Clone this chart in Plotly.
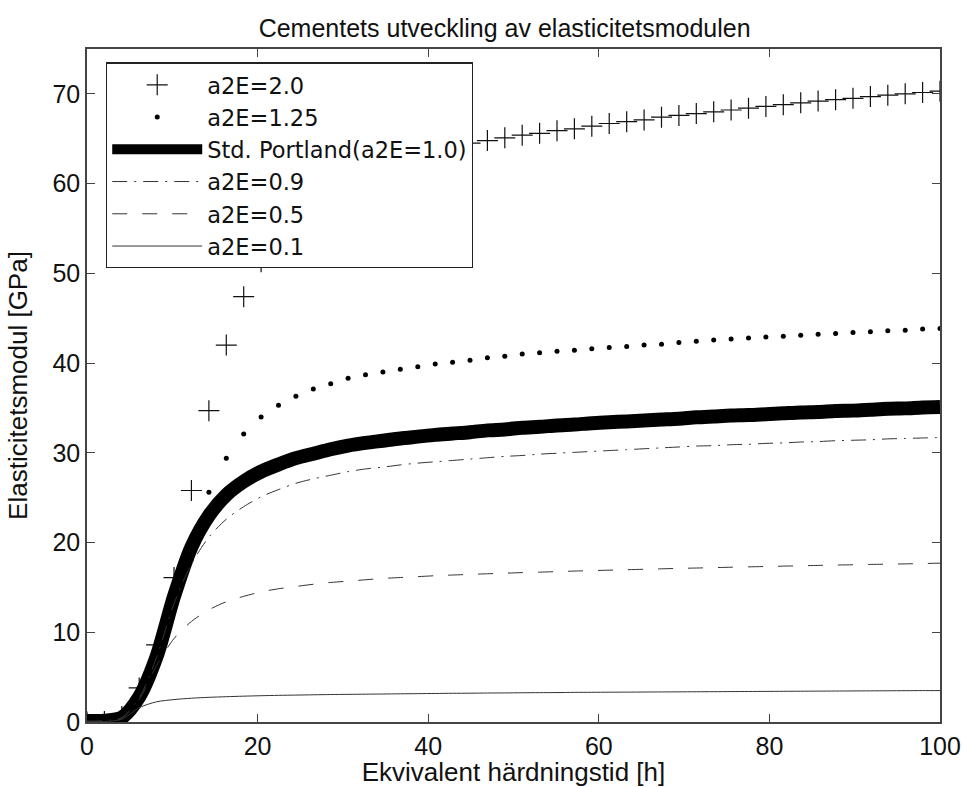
import plotly.graph_objects as go

# Equivalent hardening time [h]
t = [0.00, 2.04, 4.08, 6.12, 8.16, 10.20, 12.24, 14.29, 16.33, 18.37,
     20.41, 22.45, 24.49, 26.53, 28.57, 30.61, 32.65, 34.69, 36.73, 38.78,
     40.82, 42.86, 44.90, 46.94, 48.98, 51.02, 53.06, 55.10, 57.14, 59.18,
     61.22, 63.27, 65.31, 67.35, 69.39, 71.43, 73.47, 75.51, 77.55, 79.59,
     81.63, 83.67, 85.71, 87.76, 89.80, 91.84, 93.88, 95.92, 97.96, 100.00]

# a2E = 2.0 (plus markers)
e_20 = [0.0, 0.05, 0.6, 3.8, 8.6, 16.1, 25.8, 34.7, 42.0, 47.4,
        51.3, 54.1, 56.3, 58.0, 59.3, 60.4, 61.3, 62.0, 62.7, 63.2,
        63.7, 64.1, 64.5, 64.8, 65.1, 65.4, 65.6, 65.9, 66.1, 66.4,
        66.7, 66.9, 67.1, 67.4, 67.6, 67.8, 68.0, 68.2, 68.4, 68.6,
        68.8, 69.0, 69.2, 69.35, 69.5, 69.7, 69.85, 70.0, 70.15, 70.3]

# a2E = 1.25 (dots)
e_125 = [0.0, 0.05, 0.4, 3.0, 7.8, 14.5, 20.4, 25.6, 29.4, 32.1,
         34.0, 35.3, 36.3, 37.1, 37.7, 38.3, 38.7, 39.0, 39.3, 39.6,
         39.9, 40.1, 40.3, 40.6, 40.75, 41.0, 41.15, 41.33, 41.44, 41.59,
         41.74, 41.85, 42.0, 42.1, 42.3, 42.44, 42.56, 42.67, 42.78, 42.9,
         43.0, 43.1, 43.2, 43.3, 43.4, 43.5, 43.6, 43.67, 43.8, 43.85]

# Std. Portland (a2E = 1.0)
e_10 = [0.1, 0.15, 0.5, 2.8, 7.3, 14.0, 19.5, 23.0, 25.3, 26.8,
        27.9, 28.7, 29.4, 29.9, 30.4, 30.8, 31.1, 31.35, 31.6, 31.8,
        32.0, 32.15, 32.3, 32.5, 32.6, 32.8, 32.9, 33.05, 33.15, 33.3,
        33.4, 33.5, 33.6, 33.7, 33.8, 33.95, 34.05, 34.15, 34.2, 34.3,
        34.4, 34.5, 34.55, 34.65, 34.7, 34.8, 34.9, 34.95, 35.05, 35.1]

# a2E = 0.9
e_09 = [0.1, 0.15, 0.5, 2.7, 7.2, 13.2, 17.6, 20.6, 22.6, 24.0,
        25.1, 25.9, 26.6, 27.1, 27.5, 27.9, 28.2, 28.4, 28.65, 28.85,
        29.0, 29.15, 29.3, 29.45, 29.6, 29.7, 29.85, 29.95, 30.05, 30.15,
        30.25, 30.35, 30.45, 30.55, 30.65, 30.75, 30.8, 30.9, 30.95, 31.05,
        31.1, 31.2, 31.25, 31.35, 31.4, 31.45, 31.55, 31.6, 31.65, 31.7]

# a2E = 0.5
e_05 = [0.05, 0.1, 0.4, 2.5, 6.3, 9.3, 11.2, 12.5, 13.4, 14.0,
        14.5, 14.85, 15.1, 15.35, 15.55, 15.7, 15.85, 16.0, 16.1, 16.2,
        16.3, 16.38, 16.45, 16.52, 16.58, 16.65, 16.7, 16.76, 16.82, 16.87,
        16.92, 16.97, 17.02, 17.07, 17.12, 17.16, 17.2, 17.25, 17.29, 17.33,
        17.37, 17.41, 17.45, 17.49, 17.52, 17.56, 17.59, 17.62, 17.66, 17.7]

# a2E = 0.1
e_01 = [0.02, 0.05, 0.3, 1.6, 2.25, 2.5, 2.65, 2.75, 2.82, 2.88,
        2.93, 2.97, 3.0, 3.03, 3.06, 3.08, 3.1, 3.12, 3.14, 3.16,
        3.18, 3.2, 3.21, 3.23, 3.24, 3.26, 3.27, 3.28, 3.3, 3.31,
        3.32, 3.33, 3.34, 3.35, 3.36, 3.37, 3.38, 3.39, 3.4, 3.41,
        3.42, 3.43, 3.44, 3.45, 3.46, 3.47, 3.48, 3.49, 3.5, 3.5]

names = ["a2E=2.0", "a2E=1.25", "Std. Portland(a2E=1.0)", "a2E=0.9", "a2E=0.5", "a2E=0.1"]
title_text = "Cementets utveckling av elasticitetsmodulen"
x_title = "Ekvivalent härdningstid [h]"
y_title = "Elasticitetsmodul [GPa]"
x_ticks = [0, 20, 40, 60, 80, 100]
y_ticks = [0, 10, 20, 30, 40, 50, 60, 70]

FONT = "Liberation Sans, Arial, Helvetica, sans-serif"
LEG_FONT = "DejaVu Sans, Liberation Sans, sans-serif"

fig = go.Figure()
fig.add_trace(go.Scatter(x=t, y=e_20, name=names[0], mode="markers",
                         marker=dict(symbol="cross-thin", size=15, color="#111",
                                     line=dict(color="#111", width=1.2))))
fig.add_trace(go.Scatter(x=t, y=e_125, name=names[1], mode="markers",
                         marker=dict(symbol="circle", size=5, color="#000",
                                     line=dict(width=0))))
fig.add_trace(go.Scatter(x=t, y=e_10, name=names[2], mode="lines",
                         line=dict(color="#000", width=14, shape="spline", smoothing=0.8)))
fig.add_trace(go.Scatter(x=t, y=e_09, name=names[3], mode="lines",
                         line=dict(color="#333", width=1, dash="15px,7px,2px,7px",
                                   shape="spline", smoothing=0.8)))
fig.add_trace(go.Scatter(x=t, y=e_05, name=names[4], mode="lines",
                         line=dict(color="#333", width=1, dash="15px,15px",
                                   shape="spline", smoothing=0.8)))
fig.add_trace(go.Scatter(x=t, y=e_01, name=names[5], mode="lines",
                         line=dict(color="#333", width=1, shape="spline", smoothing=0.8)))

axis_common = dict(showline=True, linecolor="#444", linewidth=1.5, mirror="ticks",
                   ticks="inside", ticklen=8, tickcolor="#444", tickwidth=1,
                   showgrid=False, zeroline=False, automargin=False,
                   tickfont=dict(family=FONT, size=25, color="#111"))

fig.update_xaxes(range=[0, 100], tickvals=x_ticks, ticktext=[str(v) for v in x_ticks],
                 ticklabelstandoff=1,
                 title=dict(text=x_title, font=dict(family=FONT, size=26, color="#111"), standoff=7),
                 **axis_common)
fig.update_yaxes(range=[0, 75], tickvals=y_ticks, ticktext=[str(v) for v in y_ticks],
                 title=dict(text=y_title, font=dict(family=FONT, size=26, color="#111"), standoff=17),
                 **axis_common)

fig.update_layout(
    width=963, height=787,
    margin=dict(l=87, r=23, t=49, b=65),
    paper_bgcolor="white", plot_bgcolor="white",
    font=dict(family=FONT, size=25, color="#111"),
    title=dict(text=title_text, x=0.524, xanchor="center", xref="container",
               y=1 - 28 / 787, yanchor="middle", yref="container",
               font=dict(family=FONT, size=25, color="#111")),
    showlegend=True,
    legend=dict(x=0.0223, y=0.98, xanchor="left", yanchor="top",
                bgcolor="white", bordercolor="#222", borderwidth=1.2,
                font=dict(family=LEG_FONT, size=22.5, color="#111"),
                itemwidth=90, tracegroupgap=0, itemsizing="trace"),
)

fig.write_html("out.html")
